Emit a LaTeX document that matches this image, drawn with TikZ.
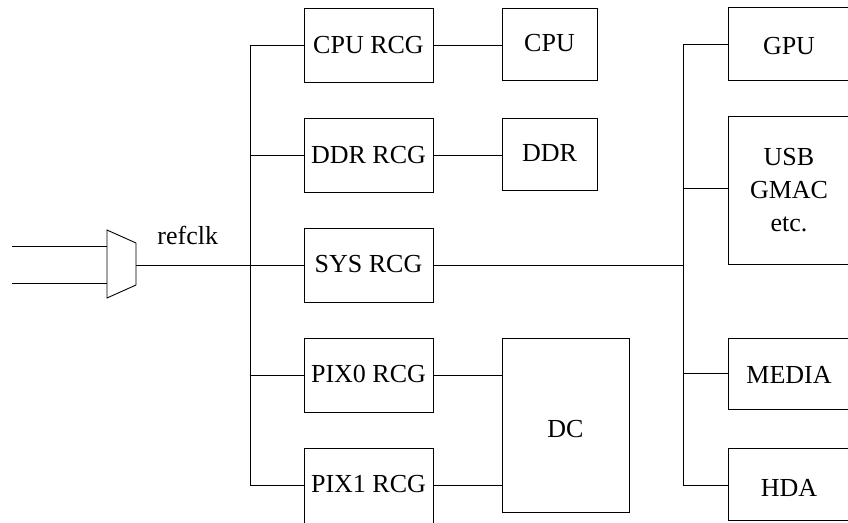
\documentclass[tikz,border=0pt]{standalone}
\usepackage{fontspec}
\setmainfont{Liberation Serif}
\begin{document}
\begin{tikzpicture}[x=1pt,y=-1pt,
  line width=0.9pt,
  every node/.style={font=\fontsize{26}{33}\selectfont},
  blk/.style={draw, rectangle, inner sep=0pt, align=center},
  wire/.style={draw}]
\clip (0,0) rectangle (848,522);
\fill[white] (0,0) rectangle (848,522);

% clock generators
\node[blk, minimum width=129pt, minimum height=74pt] (cpurcg) at (368.5,45)  {CPU RCG};
\node[blk, minimum width=129pt, minimum height=74pt] (ddrrcg) at (368.5,155) {DDR RCG};
\node[blk, minimum width=129pt, minimum height=74pt, text height=17.2pt, text depth=3pt] (sysrcg) at (368.5,265) {SYS RCG};
\node[blk, minimum width=129pt, minimum height=74pt, text height=17.2pt, text depth=3pt] (pixzrcg) at (368.5,375) {PIX0 RCG};
\node[blk, minimum width=129pt, minimum height=75pt, text height=17.2pt, text depth=4pt] (pixorcg) at (368.5,485.5) {PIX1 RCG};

% consumers
\node[blk, minimum width=95pt, minimum height=72pt, text height=17.2pt, text depth=3pt] (cpu) at (549.5,44)  {CPU};
\node[blk, minimum width=95pt, minimum height=72pt, text height=17.2pt, text depth=3pt] (ddr) at (549.5,154) {DDR};
\node[blk, minimum width=127pt, minimum height=174pt, text height=25pt, text depth=0pt] (dc) at (565.5,425) {DC};

\node[blk, minimum width=122pt, minimum height=73pt, text height=22pt, text depth=0pt]  (gpu)   at (789,43.5)  {GPU};
\node[blk, minimum width=122pt, minimum height=148pt] (usb)   at (789,190)   {USB\\GMAC\\etc.};
\node[blk, minimum width=122pt, minimum height=71pt, text height=20pt, text depth=0pt]  (media) at (789,373.5) {MEDIA};
\node[blk, minimum width=122pt, minimum height=72pt, text height=25pt, text depth=0pt]  (hda)   at (789,484)   {HDA};

% input multiplexer
\coordinate (mtl) at (107,230);
\coordinate (mtr) at (136,243);
\coordinate (mbr) at (136,285);
\coordinate (mbl) at (107,298);
\draw (mtl) -- (mtr) -- (mbr) -- (mbl) -- cycle;
\coordinate (ina) at (12,246);
\coordinate (inb) at (12,283);
\draw (ina) -- (ina -| mtl);
\draw (inb) -- (inb -| mtl);
\coordinate (mout) at (136,265);
\node[anchor=base west, inner sep=0pt] (refclk) at (157,244) {refclk};

% left clock bus
\coordinate (lbtop) at (250,45);
\coordinate (lbbot) at (250,485);
\draw (lbtop) -- (lbbot);
\draw (mout) -- (mout -| lbtop);
\draw (lbtop) -- (cpurcg.west);
\draw (ddrrcg.west -| lbtop) -- (ddrrcg.west);
\draw (sysrcg.west -| lbtop) -- (sysrcg.west);
\draw (pixzrcg.west -| lbtop) -- (pixzrcg.west);
\draw (lbbot) -- (lbbot -| pixorcg.west);

% generator outputs
\draw (cpurcg.east) -- (cpurcg.east -| cpu.west);
\draw (ddrrcg.east) -- (ddrrcg.east -| ddr.west);
\draw (pixzrcg.east) -- (pixzrcg.east -| dc.west);
\draw (lbbot -| pixorcg.east) -- (lbbot -| dc.west);

% right system bus
\coordinate (rbtop) at (683,44);
\coordinate (rbbot) at (683,485);
\draw (rbtop) -- (rbbot);
\draw (sysrcg.east) -- (sysrcg.east -| rbtop);
\draw (rbtop) -- (rbtop -| gpu.west);
\draw (rbtop |- 0,188) -- (usb.west |- 0,188);
\draw (rbtop |- media.west) -- (media.west);
\draw (rbbot) -- (rbbot -| hda.west);
\end{tikzpicture}
\end{document}
